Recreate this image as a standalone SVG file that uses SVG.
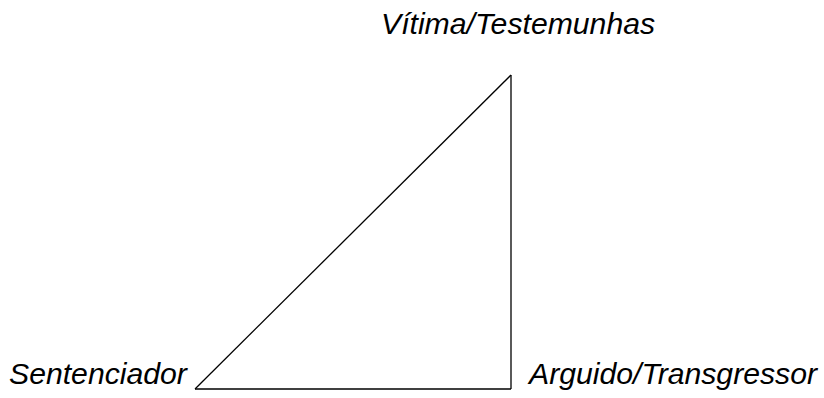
<svg xmlns="http://www.w3.org/2000/svg" width="824" height="398" viewBox="0 0 824 398">
<style>
.lbl{font-family:"Liberation Sans",Arial,sans-serif;font-style:italic;font-size:30.2px;fill:#000}
.edge{fill:none;stroke:#000;stroke-width:1.3}
</style>
<rect width="824" height="398" fill="#fff"/>
<g id="connectors">
<path class="edge" d="M511 75 L195 389"/>
<path class="edge" d="M195 389 L511 389"/>
<path class="edge" d="M511 389 L511 75"/>
</g>
<g id="vitima"><text class="lbl" x="381" y="34">Vítima/Testemunhas</text></g>
<g id="sentenciador"><text class="lbl" x="9" y="384">Sentenciador</text></g>
<g id="arguido"><text class="lbl" x="529" y="384">Arguido/Transgressor</text></g>
</svg>
